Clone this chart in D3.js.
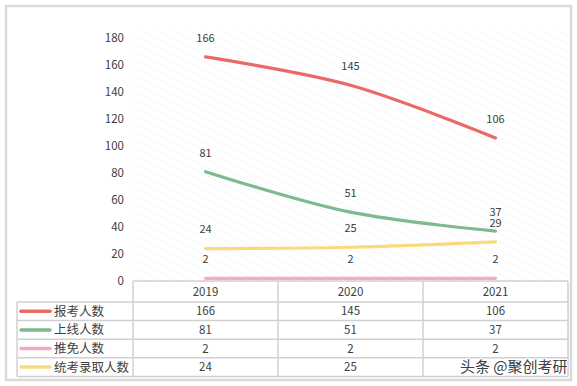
<!DOCTYPE html>
<html>
<head>
<meta charset="utf-8">
<script src="https://cdn.jsdelivr.net/npm/d3@7"></script>
<style>
    body { margin: 0; background: #fff; }
    svg text { font-family: "Noto Sans CJK SC", "Microsoft YaHei", sans-serif; fill: #404040; }
</style>
</head>
<body>
<div id="chart"></div>
<script>
// chart data
const years = ["2019", "2020", "2021"];
const seriesNames = ["报考人数", "上线人数", "推免人数", "统考录取人数"];
const applicants = [166, 145, 106];
const passed = [81, 51, 37];
const exempt = [2, 2, 2];
const admitted = [24, 25, 29];
const seriesColors = ["#eb6a67", "#7dba8e", "#f6a9c1", "#fcd97a"];
const yTickValues = [0, 20, 40, 60, 80, 100, 120, 140, 160, 180];

const series = seriesNames.map((name, i) => ({
    name: name,
    color: seriesColors[i],
    values: [applicants, passed, exempt, admitted][i]
}));

const width = 577, height = 386;

const svg = d3.select("#chart").append("svg")
    .attr("width", width)
    .attr("height", height);

// outer frame
svg.append("rect")
    .attr("x", 6).attr("y", 6)
    .attr("width", 565).attr("height", 374)
    .attr("fill", "#fff")
    .attr("stroke", "#d9d9d9")
    .attr("stroke-width", 2.5);

// scales
const x = d3.scaleBand().domain(years).range([133, 568]);
const y = d3.scaleLinear().domain([0, 180]).range([281, 38]);
const cx = d => x(d) + x.bandwidth() / 2;

// faint hatched background (watermark texture)
const defs = svg.append("defs");
const pat = defs.append("pattern")
    .attr("id", "hatch")
    .attr("patternUnits", "userSpaceOnUse")
    .attr("width", 16).attr("height", 8);
pat.append("line")
    .attr("x1", 0).attr("y1", 0).attr("x2", 16).attr("y2", 8)
    .attr("stroke", "#ececec")
    .attr("stroke-width", 1)
    .attr("stroke-dasharray", "1.5,2");

svg.append("rect")
    .attr("x", 133).attr("y", 30)
    .attr("width", 435).attr("height", 251)
    .attr("fill", "url(#hatch)");

// y axis labels only
const yAxis = d3.axisLeft(y).tickValues(yTickValues).tickSize(0).tickPadding(0);
const yAxisGroup = svg.append("g")
    .attr("transform", "translate(124,0)")
    .call(yAxis);
yAxisGroup.select(".domain").remove();
yAxisGroup.selectAll("text")
    .attr("font-size", "11.5px")
    .style("font-family", "'Noto Sans CJK SC', sans-serif")
    .attr("fill", "#595959");

// lines
const line = d3.line()
    .x((d, i) => cx(years[i]))
    .y(d => y(d))
    .curve(d3.curveCatmullRom.alpha(0.5));

svg.append("g").selectAll("path")
    .data(series.slice().reverse())
    .enter()
    .append("path")
    .attr("d", d => line(d.values))
    .attr("fill", "none")
    .attr("stroke", d => d.color)
    .attr("stroke-width", 3.2)
    .attr("stroke-linecap", "round");

// data labels
series.forEach(s => {
    svg.append("g").selectAll("text")
        .data(s.values)
        .enter()
        .append("text")
        .attr("x", (d, i) => cx(years[i]))
        .attr("y", d => y(d) - 19)
        .attr("dy", "0.35em")
        .attr("text-anchor", "middle")
        .attr("font-size", "11px")
        .text(d => d);
});

// data table
const tableTop = 281, headerH = 21, rowH = 18.6;
const legendLeft = 17;
const tableRight = x.range()[1];
const rowY = i => tableTop + headerH + i * rowH;
const tableBottom = rowY(series.length);

const table = svg.append("g")
    .attr("stroke", "#d0d0d0")
    .attr("stroke-width", 1.5);

// horizontal lines
table.append("line")
    .attr("x1", x.range()[0]).attr("x2", tableRight)
    .attr("y1", tableTop).attr("y2", tableTop);
d3.range(series.length + 1).forEach(i => {
    table.append("line")
        .attr("x1", legendLeft).attr("x2", tableRight)
        .attr("y1", rowY(i)).attr("y2", rowY(i));
});

// vertical lines
table.append("line")
    .attr("x1", legendLeft).attr("x2", legendLeft)
    .attr("y1", rowY(0)).attr("y2", tableBottom);
years.forEach(yr => {
    table.append("line")
        .attr("x1", x(yr)).attr("x2", x(yr))
        .attr("y1", tableTop).attr("y2", tableBottom);
});
table.append("line")
    .attr("x1", tableRight).attr("x2", tableRight)
    .attr("y1", tableTop).attr("y2", tableBottom);

// header years
svg.append("g").selectAll("text")
    .data(years)
    .enter()
    .append("text")
    .attr("x", d => cx(d))
    .attr("y", tableTop + headerH / 2)
    .attr("dy", "0.35em")
    .attr("text-anchor", "middle")
    .attr("font-size", "11.5px")
    .text(d => d);

// legend + values rows (last 2021 cell sits under the source watermark)
series.forEach((s, i) => {
    const rc = rowY(i) + rowH / 2;
    svg.append("line")
        .attr("x1", 21).attr("x2", 50)
        .attr("y1", rc).attr("y2", rc)
        .attr("stroke", s.color)
        .attr("stroke-width", 3.5)
        .attr("stroke-linecap", "round");
    svg.append("text")
        .attr("x", 54)
        .attr("y", rc)
        .attr("dy", "0.36em")
        .attr("font-size", "12.5px")
        .text(s.name);
    const shown = i === series.length - 1 ? s.values.slice(0, 2) : s.values;
    svg.append("g").selectAll("text")
        .data(shown)
        .enter()
        .append("text")
        .attr("x", (d, j) => cx(years[j]))
        .attr("y", rc)
        .attr("dy", "0.35em")
        .attr("text-anchor", "middle")
        .attr("font-size", "11.5px")
        .text(d => d);
});

// source watermark
svg.append("text")
    .attr("x", 460)
    .attr("y", 367)
    .attr("dy", "0.36em")
    .attr("font-size", "15px")
    .attr("fill", "#333")
    .attr("stroke", "#fff")
    .attr("stroke-width", 2)
    .attr("paint-order", "stroke")
    .text("头条 @聚创考研");
</script>
</body>
</html>
